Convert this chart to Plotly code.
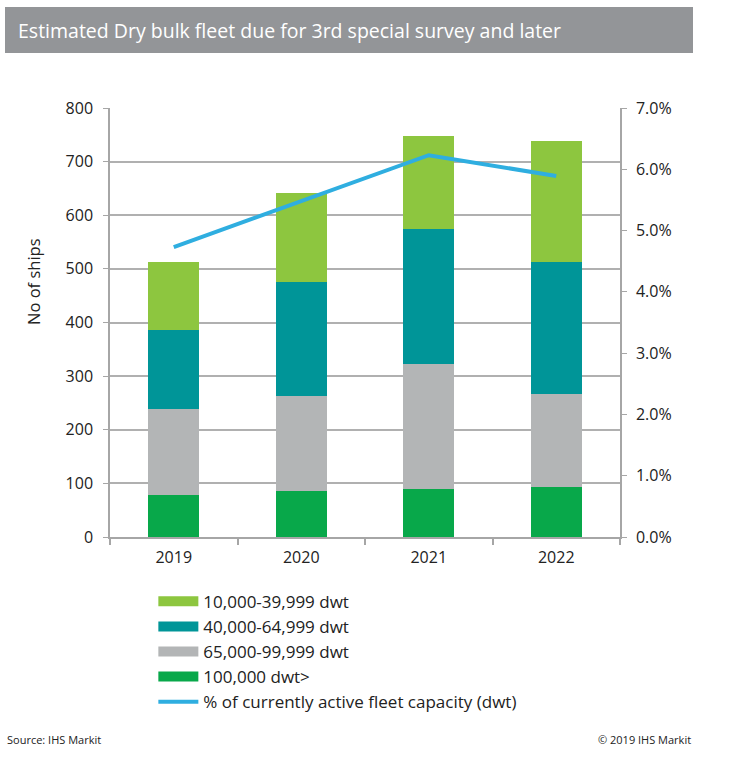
import plotly.graph_objects as go

years = ["2019", "2020", "2021", "2022"]
# stacked segments, bottom to top (no of ships)
dwt_100k = [78, 86, 90, 94]
dwt_65k = [161, 177, 233, 173]
dwt_40k = [147, 212, 252, 245]
dwt_10k = [126, 166, 172, 227]
pct_capacity = [0.0473, 0.0548, 0.0623, 0.0589]

col_10k = "#8DC63F"
col_40k = "#009598"
col_65k = "#B3B5B6"
col_100k = "#08A84A"
col_line = "#2FAEE0"

font = "Open Sans"

fig = go.Figure()
for name, vals, col in [("100,000 dwt>", dwt_100k, col_100k),
                        ("65,000-99,999 dwt", dwt_65k, col_65k),
                        ("40,000-64,999 dwt", dwt_40k, col_40k),
                        ("10,000-39,999 dwt", dwt_10k, col_10k)]:
    fig.add_trace(go.Bar(x=years, y=vals, name=name, marker_color=col,
                         marker_line_width=0, showlegend=False))

fig.add_trace(go.Scatter(x=years, y=pct_capacity, yaxis="y2", mode="lines",
                         line=dict(color=col_line, width=4), showlegend=False))

# legend entries (wide swatches like the original)
for name, col, w in [("10,000-39,999 dwt", col_10k, 10),
                     ("40,000-64,999 dwt", col_40k, 10),
                     ("65,000-99,999 dwt", col_65k, 10),
                     ("100,000 dwt>", col_100k, 10),
                     ("% of currently active fleet capacity (dwt)", col_line, 4)]:
    fig.add_trace(go.Scatter(x=[None], y=[None], mode="lines", name=name,
                             line=dict(color=col, width=w)))

fig.update_layout(
    width=731, height=762,
    margin=dict(l=110, r=111, t=108, b=225),
    barmode="stack", bargap=0.6,
    paper_bgcolor="white", plot_bgcolor="white",
    font=dict(family=font, size=16, color="#222222"),
    xaxis=dict(showline=True, linecolor="#A6A6A6", linewidth=1.5,
               ticks="outside", tickson="boundaries", ticklen=6,
               tickcolor="#A6A6A6", tickwidth=1.5, ticklabelstandoff=5),
    yaxis=dict(range=[0, 800], dtick=100, showgrid=True, gridcolor="#B0B0B0",
               gridwidth=1.5, showline=True, linecolor="#A6A6A6", linewidth=1.5,
               ticks="outside", ticklen=5, tickcolor="#A6A6A6", ticklabelstandoff=7,
               zeroline=False),
    yaxis2=dict(range=[0, 0.07], dtick=0.01, tickformat=".1%", overlaying="y",
                side="right", showgrid=False, showline=True, linecolor="#A6A6A6",
                linewidth=1.5, ticks="outside", ticklen=5, tickcolor="#A6A6A6",
                ticklabelstandoff=6, zeroline=False),
    legend=dict(x=0.085, xanchor="left", y=-0.109, yanchor="top",
                traceorder="normal", font=dict(size=17), tracegroupgap=0,
                itemwidth=40, bgcolor="rgba(0,0,0,0)"),
    shapes=[dict(type="rect", xref="paper", yref="paper",
                 x0=(5 - 110) / 510, x1=(693 - 110) / 510,
                 y0=(537 - 53) / 429, y1=(537 - 7) / 429,
                 fillcolor="#939598", line_width=0, layer="below")],
    annotations=[
        dict(text="Estimated Dry bulk fleet due for 3rd special survey and later",
             xref="paper", yref="paper", x=(16 - 110) / 510, y=(537 - 31) / 429,
             xanchor="left", yanchor="middle", showarrow=False,
             font=dict(size=19.5, color="white", family=font)),
        # y axis title sits above centre in the original
        dict(text="No of ships", xref="paper", yref="paper",
             x=(33 - 110) / 510, y=(537 - 282) / 429, textangle=-90,
             xanchor="center", yanchor="middle", showarrow=False,
             font=dict(size=16.5, color="#222222")),
        dict(text="Source: IHS Markit", xref="paper", yref="paper",
             x=(5 - 110) / 510, y=(537 - 739) / 429, xanchor="left",
             yanchor="middle", showarrow=False, font=dict(size=11, color="#222222")),
        dict(text="© 2019 IHS Markit", xref="paper", yref="paper",
             x=(693 - 110) / 510, y=(537 - 739) / 429, xanchor="right",
             yanchor="middle", showarrow=False, font=dict(size=11, color="#222222")),
    ],
)

fig.write_html("out.html", config={"displayModeBar": False},
               post_script="document.body.style.margin='0';")
